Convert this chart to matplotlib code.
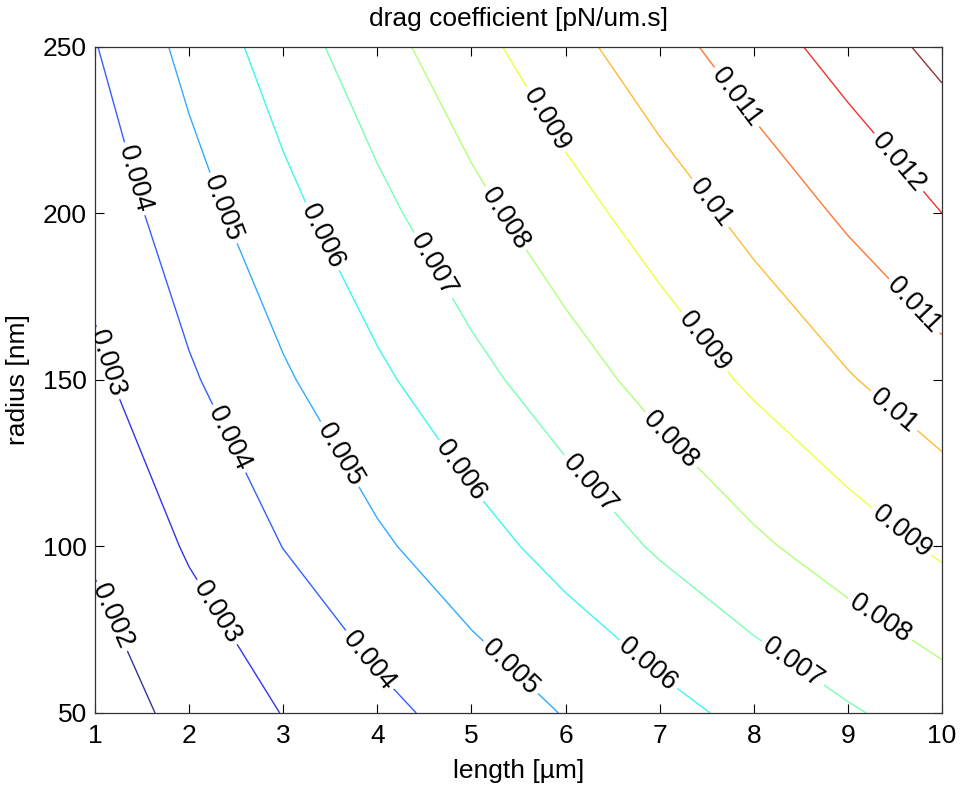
"""
Drag coefficient contour map (length vs radius), MATLAB-style contour with inline labels.
"""
import numpy as np
import matplotlib
matplotlib.use("Agg")
import matplotlib.pyplot as plt

# grid
length_um = [1, 2, 3, 4, 5, 6, 7, 8, 9, 10]
radius_nm = [50, 100, 150, 200, 250]

drag_r50 = [0.00150, 0.002284, 0.003028, 0.003722, 0.004395, 0.005050, 0.005671, 0.006285, 0.006891, 0.00745]
drag_r100 = [0.00212, 0.003101, 0.004016, 0.004836, 0.005606, 0.006366, 0.007120, 0.007824, 0.008500, 0.009167]
drag_r150 = [0.00281, 0.003879, 0.004871, 0.005813, 0.006702, 0.007545, 0.008366, 0.009167, 0.009924, 0.010631]
drag_r200 = [0.00337, 0.004576, 0.005703, 0.006737, 0.007712, 0.008609, 0.009470, 0.010322, 0.011167, 0.012000]
drag_r250 = [0.00396, 0.005291, 0.006506, 0.007620, 0.008670, 0.009673, 0.010620, 0.011532, 0.012420, 0.013280]

levels = [0.002, 0.003, 0.004, 0.005, 0.006, 0.007, 0.008, 0.009, 0.010, 0.011, 0.012, 0.013]

# where the labels sit in the reference (data coords)
label_spots = [
    (1.38, 210), (2.31, 201), (3.41, 193), (4.57, 184), (5.39, 199), (5.72, 227),
    (7.78, 234), (7.49, 202), (9.53, 215), (9.66, 171), (9.53, 142), (7.46, 161),
    (9.53, 103), (7.12, 132), (9.29, 76), (6.22, 118), (8.44, 66), (4.85, 122),
    (6.86, 64), (3.56, 127), (5.36, 62), (2.40, 132), (3.92, 66), (1.14, 155),
    (2.28, 80), (1.18, 79),
]

plt.rcParams['font.family'] = ['Liberation Sans', 'DejaVu Sans']

X, Y = np.meshgrid(length_um, radius_nm)
Z = np.array([drag_r50, drag_r100, drag_r150, drag_r200, drag_r250])

fig = plt.figure(figsize=(9.61, 7.86), dpi=100)
ax = fig.add_axes([0.0989, 0.0929, 0.8813, 0.8479])

cs = ax.contour(X, Y, Z, levels=levels, cmap='jet', linewidths=1.0)
ax.set_xlim(1, 10)
ax.set_ylim(50, 250)
ax.clabel(cs, fmt='%g', colors='k', fontsize=19.5, manual=label_spots, inline=True, inline_spacing=4)
cs.set_alpha(0.8)  # MATLAB's thin lines come out paler

ax.set_xticks(length_um)
ax.set_yticks([50, 100, 150, 200, 250])
ax.tick_params(direction='in', length=6.5, width=0.8, top=True, right=True,
               labelsize=19)
ax.tick_params(axis='x', pad=8)
ax.tick_params(axis='y', pad=6)
for sp in ax.spines.values():
    sp.set_linewidth(0.9)
    sp.set_color('#333333')

ax.set_title('drag coefficient [pN/um.s]', fontsize=19, pad=15)
ax.set_xlabel('length [µm]', fontsize=19, labelpad=8)
ax.set_ylabel('radius [nm]', fontsize=19, labelpad=9)

plt.savefig('out.png', dpi=100)
